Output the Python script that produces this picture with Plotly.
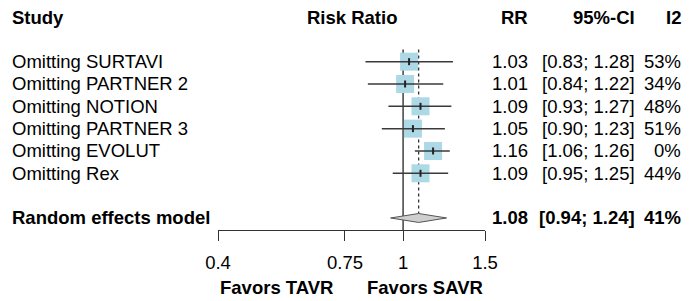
import plotly.graph_objects as go

studies = ["Omitting SURTAVI", "Omitting PARTNER 2", "Omitting NOTION",
           "Omitting PARTNER 3", "Omitting EVOLUT", "Omitting Rex"]
rr = [1.03, 1.01, 1.09, 1.05, 1.16, 1.09]
ci_lo = [0.83, 0.84, 0.93, 0.90, 1.06, 0.95]
ci_hi = [1.28, 1.22, 1.27, 1.23, 1.26, 1.25]
i2 = ["53%", "34%", "48%", "51%", "0%", "44%"]

pooled_label = "Random effects model"
pooled_rr = 1.08
pooled_lo = 0.94
pooled_hi = 1.24
pooled_i2 = "41%"

tick_vals = [0.4, 0.75, 1, 1.5]
tick_text = ["0.4", "0.75", "1", "1.5"]
headers = ["Study", "Risk Ratio", "RR", "95%-CI", "I2"]

FONT = "Liberation Sans, Arial, sans-serif"
FS = 18.5
OFF = 8                    # page body margin
W, H = 700 - OFF, 301 - OFF
PL, PR = 218 - OFF, 485 - OFF   # plot area (figure pixels)
AXY = 230 - OFF                 # axis line (figure pixels)
row_y = list(range(2, 2 + len(studies)))
pooled_y = 9
# page y = 17 + 22.33*i ; top of figure at page y = OFF
ytop = (OFF - 17) / 22.33
ybot = (230 - 17) / 22.33

def px(x_page):
    return (x_page - OFF - PL) / (PR - PL)

def py(y_page):
    return (AXY - (y_page - OFF)) / AXY

fig = go.Figure()

# reference line at 1 (solid) and pooled estimate (dotted)
fig.add_trace(go.Scatter(x=[1, 1], y=[1.45, ybot], mode="lines",
                         line=dict(color="#333333", width=1.4), hoverinfo="skip"))
fig.add_trace(go.Scatter(x=[pooled_rr, pooled_rr], y=[1.45, pooled_y - 0.2], mode="lines",
                         line=dict(color="#333333", width=1.3, dash="dot"), hoverinfo="skip"))

# boxes
fig.add_trace(go.Scatter(x=rr, y=row_y, mode="markers",
                         marker=dict(symbol="square", size=18, color="#ADD8E6",
                                     line=dict(width=0)), hoverinfo="skip"))
# CI lines
for lo, hi, y in zip(ci_lo, ci_hi, row_y):
    fig.add_trace(go.Scatter(x=[lo, hi], y=[y, y], mode="lines",
                             line=dict(color="#3a3a3a", width=1.5), hoverinfo="skip"))
# point marks
fig.add_trace(go.Scatter(x=rr, y=row_y, mode="markers",
                         marker=dict(symbol="line-ns-open", size=5, color="#222222",
                                     line=dict(width=2, color="#222222")), hoverinfo="skip"))

# diamond
fig.add_trace(go.Scatter(x=[pooled_lo, pooled_rr, pooled_hi, pooled_rr, pooled_lo],
                         y=[pooled_y, pooled_y - 0.2, pooled_y, pooled_y + 0.2, pooled_y],
                         mode="lines", fill="toself", fillcolor="#CFCFCF",
                         line=dict(color="#555555", width=1), hoverinfo="skip"))

ann = []
def txt(x, y, s, anchor, bold=False, yref="y"):
    ann.append(dict(x=px(x), xref="paper", y=y, yref=yref, text=f"<b>{s}</b>" if bold else s,
                    xanchor=anchor, yanchor="middle", showarrow=False,
                    font=dict(family=FONT, size=FS, color="#000000")))

# headers (x in page pixels)
txt(10, 0, headers[0], "left", True)
txt((218 + 485) / 2, 0, headers[1], "center", True)
txt(530, 0, headers[2], "right", True)
txt(637, 0, headers[3], "right", True)
txt(683, 0, headers[4], "right", True)

for s, r, lo, hi, q, y in zip(studies, rr, ci_lo, ci_hi, i2, row_y):
    txt(10, y, s, "left")
    txt(530, y, f"{r:.2f}", "right")
    txt(637, y, f"[{lo:.2f}; {hi:.2f}]", "right")
    txt(683, y, q, "right")

txt(10, pooled_y, pooled_label, "left", True)
txt(530, pooled_y, f"{pooled_rr:.2f}", "right", True)
txt(637, pooled_y, f"[{pooled_lo:.2f}; {pooled_hi:.2f}]", "right", True)
txt(683, pooled_y, pooled_i2, "right", True)

txt(218, py(287), "Favors TAVR", "left", True, yref="paper")
txt(485, py(287), "Favors SAVR", "right", True, yref="paper")

fig.update_layout(
    width=W, height=H, margin=dict(l=PL, r=W - PR, t=0, b=H - AXY, autoexpand=False),
    paper_bgcolor="white", plot_bgcolor="white", showlegend=False,
    annotations=ann,
    xaxis=dict(type="log", range=[-0.39794, 0.176091], tickvals=tick_vals, ticktext=tick_text,
               showline=True, linecolor="#333333", linewidth=1.4, ticks="outside",
               ticklen=10, tickwidth=1.4, tickcolor="#333333", showgrid=False, zeroline=False,
               ticklabelstandoff=6,
               tickfont=dict(family=FONT, size=FS, color="#000000"), fixedrange=True),
    yaxis=dict(range=[ybot, ytop], visible=False, fixedrange=True),
)
fig.write_html("out.html")
